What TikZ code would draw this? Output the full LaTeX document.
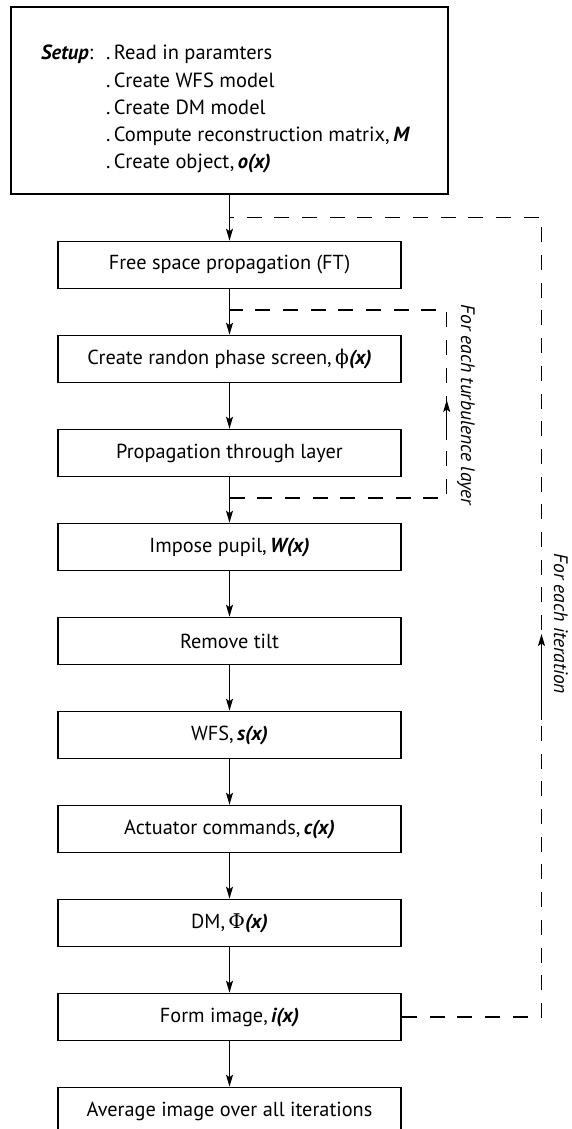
\documentclass[tikz,border=0pt]{standalone}
\usepackage{fontspec}
\setmainfont{PT Sans}
\newfontfamily\symfont{DejaVu Serif}
\usetikzlibrary{arrows.meta}
\begin{document}
\begin{tikzpicture}[
  box/.style={draw, line width=1.6pt, minimum width=343.5pt, minimum height=47pt, inner sep=0pt, font=\fontsize{20.3}{24}\selectfont},
  arr/.style={-{Stealth[length=12pt,width=7pt,inset=2.5pt]}, line width=1.3pt},
  dashline/.style={line width=1.5pt, dash pattern=on 15pt off 12.7pt},
  lab/.style={inner sep=0pt, font=\fontsize{19.5}{23}\selectfont\itshape}
]
\useasboundingbox (0,0) rectangle (571pt,-1129pt);
\begin{scope}[x=1pt,y=1pt]
% setup box
\node[draw, line width=1.6pt, minimum width=437pt, minimum height=187pt, inner sep=0pt] (setup) at (229.5,-100.5) {};
\node[anchor=base west, inner sep=0pt, font=\fontsize{20.5}{27.2}\selectfont] (setuptext) at (41,-60) {%
\begin{tabular}[t]{@{}l@{}l@{}}
\makebox[65pt][l]{\textbf{\textit{Setup}}:} & .\,Read in paramters\\
 & .\,Create WFS model\\
 & .\,Create DM model\\
 & .\,Compute reconstruction matrix,\,\textbf{\textit{M}}\\
 & .\,Create object,\,\textbf{\textit{o(x)}}
\end{tabular}};
% step boxes
\node[box] (fs) at (229.5,-265) {Free space propagation (FT)};
\node[box] (ps) at (229.5,-359) {Create randon phase screen,\,{\symfont ϕ}\textbf{\textit{(x)}}};
\node[box] (pl) at (229.5,-453) {Propagation through layer};
\node[box] (ip) at (229.5,-547) {Impose pupil,\,\textbf{\textit{W(x)}}};
\node[box] (rt) at (229.5,-641) {Remove tilt};
\node[box] (wfs) at (229.5,-735) {WFS,\,\textbf{\textit{s(x)}}};
\node[box] (ac) at (229.5,-829) {Actuator commands,\,\textbf{\textit{c(x)}}};
\node[box] (dm) at (229.5,-923) {DM,\,{\symfont Φ}\textbf{\textit{(x)}}};
\node[box] (fi) at (229.5,-1017) {Form image,\,\textbf{\textit{i(x)}}};
\node[box] (av) at (229.5,-1111) {Average image over all iterations};
% main arrows
\draw[arr] (setup.south) -- (fs.north);
\draw[arr] (fs.south) -- (ps.north);
\draw[arr] (ps.south) -- (pl.north);
\draw[arr] (pl.south) -- (ip.north);
\draw[arr] (ip.south) -- (rt.north);
\draw[arr] (rt.south) -- (wfs.north);
\draw[arr] (wfs.south) -- (ac.north);
\draw[arr] (ac.south) -- (dm.north);
\draw[arr] (dm.south) -- (fi.north);
\draw[arr] (fi.south) -- (av.north);
% iteration loop
\coordinate (itj) at (229.5,-217.5);
\coordinate (itc1) at (541.5,-217.5);
\coordinate (itc2) at (541.5,-1017);
\draw[dashline] (fi.east) -- (itc2) -- (itc1) -- (itj);
\coordinate (ita) at (541.5,-634);
\coordinate (itb) at (541.5,-720);
\draw[arr, line width=0.9pt] (itb) -- (ita);
\node[lab, rotate=-90] (il) at (561,-624) {For each iteration};
% turbulence loop
\coordinate (tj1) at (229.5,-310);
\coordinate (tc1) at (446.7,-310);
\coordinate (tc2) at (446.7,-498);
\coordinate (tj2) at (229.5,-498);
\draw[dashline] (tj2) -- (tc2) -- (tc1) -- (tj1);
\coordinate (ta) at (446.7,-400);
\coordinate (tb) at (446.7,-440);
\draw[arr, line width=0.9pt] (tb) -- (ta);
\node[lab, rotate=-90] (tl) at (466,-405) {For each turbulence layer};
\end{scope}
\end{tikzpicture}
\end{document}
